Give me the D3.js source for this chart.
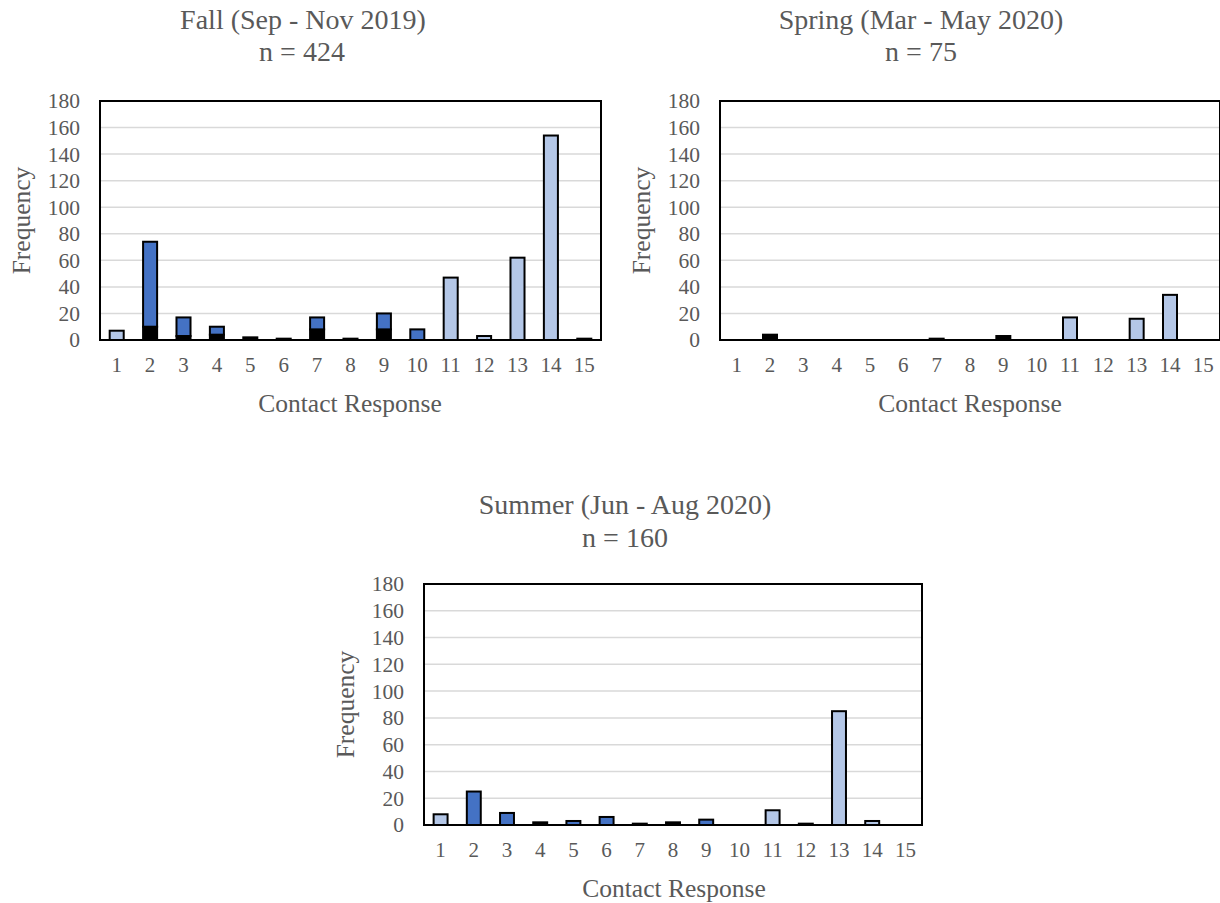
<!DOCTYPE html>
<html>
<head>
<meta charset="utf-8">
<script src="https://cdn.jsdelivr.net/npm/d3@7"></script>
<style>
  html, body { margin: 0; padding: 0; background: #fff; }
  svg { display: block; }
  text { font-family: "Liberation Serif", "Times New Roman", serif; fill: #595959; }
</style>
</head>
<body>
<svg id="chart" width="1220" height="903"></svg>
<script>
// ---------- data ----------
const categories = ["1","2","3","4","5","6","7","8","9","10","11","12","13","14","15"];
const yTicks = [0,20,40,60,80,100,120,140,160,180];

const fallBlack = [0,10,3,4,2,1,8,1,8,0,0,0,0,0,1];
const fallBlue  = [0,64,14,6,0,0,9,0,12,8,0,0,0,0,0];
const fallLight = [7,0,0,0,0,0,0,0,0,0,47,3,62,154,0];

const springBlack = [0,4,0,0,0,0,1,0,3,0,0,0,0,0,0];
const springBlue  = [0,0,0,0,0,0,0,0,0,0,0,0,0,0,0];
const springLight = [0,0,0,0,0,0,0,0,0,0,17,0,16,34,0];

const summerBlack = [0,0,0,2,0,0,1,2,0,0,0,1,0,0,0];
const summerBlue  = [0,25,9,0,3,6,0,0,4,0,0,0,0,0,0];
const summerLight = [8,0,0,0,0,0,0,0,0,0,11,0,85,3,0];

const seriesNames = ["black","blue","light"];
const seriesColors = {black:"#000000", blue:"#4472C4", light:"#B4C7E7"};

const panels = [
  {title:"Fall (Sep - Nov 2019)", n:"n = 424", black:fallBlack, blue:fallBlue, light:fallLight,
   x0:100, x1:601, y0:101, y1:340, t1x:303, t1y:29, t2x:302, t2y:61, axx:350},
  {title:"Spring (Mar - May 2020)", n:"n = 75", black:springBlack, blue:springBlue, light:springLight,
   x0:720, x1:1220, y0:101, y1:340, t1x:921, t1y:29, t2x:921, t2y:61, axx:970},
  {title:"Summer (Jun - Aug 2020)", n:"n = 160", black:summerBlack, blue:summerBlue, light:summerLight,
   x0:424, x1:922, y0:584, y1:825, t1x:625, t1y:514, t2x:625, t2y:547, axx:674}
];

const svg = d3.select("#chart");

panels.forEach(p => {
  const g = svg.append("g");
  const x = d3.scaleBand().domain(categories).range([p.x0, p.x1]).paddingInner(0.58).paddingOuter(0.29);
  const y = d3.scaleLinear().domain([0,180]).range([p.y1, p.y0]);

  // gridlines
  g.append("g").selectAll("line").data(yTicks.filter(d => d > 0)).join("line")
    .attr("x1", p.x0).attr("x2", p.x1)
    .attr("y1", d => y(d)).attr("y2", d => y(d))
    .attr("stroke", "#d9d9d9").attr("stroke-width", 1.5);

  // stacked bars
  const rows = categories.map((c,i) => ({cat:c, black:p.black[i], blue:p.blue[i], light:p.light[i]}));
  const stack = d3.stack().keys(seriesNames)(rows);
  stack.forEach(layer => {
    g.append("g").selectAll("rect").data(layer.filter(d => d[1] - d[0] > 0)).join("rect")
      .attr("x", d => x(d.data.cat))
      .attr("width", x.bandwidth())
      .attr("y", d => y(d[1]))
      .attr("height", d => y(d[0]) - y(d[1]))
      .attr("fill", seriesColors[layer.key])
      .attr("stroke", "#000").attr("stroke-width", 2);
  });

  // frame
  g.append("rect").attr("x", p.x0).attr("y", p.y0)
    .attr("width", p.x1 - p.x0).attr("height", p.y1 - p.y0)
    .attr("fill", "none").attr("stroke", "#000").attr("stroke-width", 2);

  // y axis
  const yAxis = d3.axisLeft(y).tickValues(yTicks).tickSize(0).tickPadding(20);
  const ya = g.append("g").attr("transform", `translate(${p.x0},0)`).call(yAxis);
  ya.select(".domain").remove();
  ya.selectAll("text").attr("font-size", 21.5).style("font-family", '"Liberation Serif", serif').attr("fill", "#595959");

  // x axis
  const xAxis = d3.axisBottom(x).tickSize(0).tickPadding(17);
  const xa = g.append("g").attr("transform", `translate(0,${p.y1})`).call(xAxis);
  xa.select(".domain").remove();
  xa.selectAll("text").attr("font-size", 21).style("font-family", '"Liberation Serif", serif').attr("fill", "#595959");

  // axis titles
  g.append("text").attr("x", p.axx).attr("y", p.y1 + 72)
    .attr("text-anchor", "middle").attr("font-size", 25.5).text("Contact Response");
  g.append("text")
    .attr("transform", `translate(${p.x0 - 70},${(p.y0 + p.y1) / 2}) rotate(-90)`)
    .attr("text-anchor", "middle").attr("font-size", 25.5).text("Frequency");

  // titles
  g.append("text").attr("x", p.t1x).attr("y", p.t1y).attr("text-anchor", "middle")
    .attr("font-size", 28).text(p.title);
  g.append("text").attr("x", p.t2x).attr("y", p.t2y).attr("text-anchor", "middle")
    .attr("font-size", 28).text(p.n);
});
</script>
</body>
</html>
